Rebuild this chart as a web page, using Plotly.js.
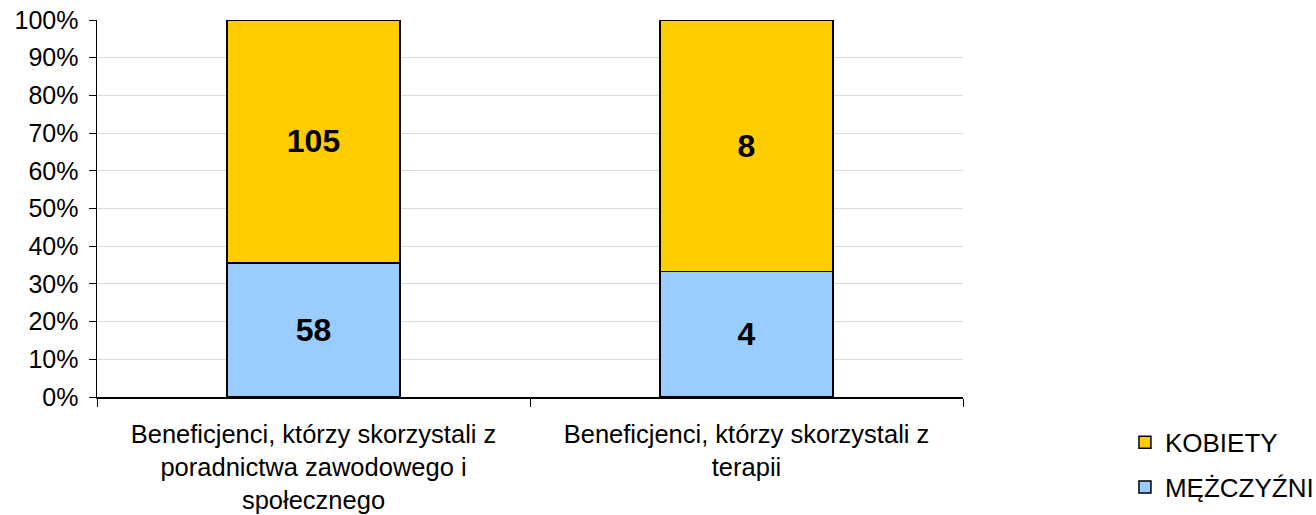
<!DOCTYPE html>
<html>
<head>
<meta charset="utf-8">
<script src="https://cdn.plot.ly/plotly-3.0.1.min.js"></script>
<style>html,body{margin:0;padding:0;background:#fff;}#chart{width:1316px;height:515px;}</style>
</head>
<body>
<div id="chart"></div>
<script>
const categories = [
  "Beneficjenci, którzy skorzystali z<br>poradnictwa zawodowego i<br>społecznego",
  "Beneficjenci, którzy skorzystali z<br>terapii"
];
const menValues = [58, 4];
const womenValues = [105, 8];
const seriesNames = ["MĘŻCZYŹNI", "KOBIETY"];

const font = "Liberation Sans, Arial, sans-serif";
const traces = [
  {
    type: "bar", name: seriesNames[0], x: categories, y: menValues,
    text: menValues.map(String), textposition: "inside", insidetextanchor: "middle",
    textfont: {family: font, size: 32, color: "#000", weight: "bold"},
    marker: {color: "#99CCFF", line: {color: "#000", width: 1.5}},
    width: 0.4, legendgroup: "m", legendrank: 2, hoverinfo: "skip"
  },
  {
    type: "bar", name: seriesNames[1], x: categories, y: womenValues,
    text: womenValues.map(String), textposition: "inside", insidetextanchor: "middle",
    textfont: {family: font, size: 32, color: "#000", weight: "bold"},
    marker: {color: "#FFCC00", line: {color: "#000", width: 1.5}},
    width: 0.4, legendgroup: "k", legendrank: 1, hoverinfo: "skip"
  }
];

const layout = {
  width: 1316, height: 515,
  margin: {l: 97, r: 353, t: 20, b: 118, autoexpand: false},
  paper_bgcolor: "#fff", plot_bgcolor: "#fff",
  barmode: "stack", barnorm: "percent",
  font: {family: font, color: "#000"},
  showlegend: true,
  legend: {
    x: 1.187, xanchor: "left", y: -0.058, yanchor: "top",
    traceorder: "grouped", tracegroupgap: 8,
    font: {family: font, size: 26, color: "#000"},
    itemwidth: 30
  },
  xaxis: {
    type: "category", tickson: "boundaries", automargin: false,
    ticks: "outside", ticklen: 8, tickcolor: "#000",
    showline: true, linecolor: "#000", linewidth: 1.5,
    showgrid: false, ticklabelstandoff: 14,
    tickfont: {family: font, size: 25.5, color: "#000"}
  },
  yaxis: {
    range: [0, 100], dtick: 10, ticksuffix: "%", automargin: false,
    ticks: "outside", ticklen: 7, tickcolor: "#000",
    showline: true, linecolor: "#000", linewidth: 1.5,
    showgrid: true, gridcolor: "#d9d9d9", gridwidth: 1,
    zeroline: false, ticklabelstandoff: 5,
    tickfont: {family: font, size: 25, color: "#000"}
  }
};

Plotly.newPlot("chart", traces, layout, {displayModeBar: false, staticPlot: true});
</script>
</body>
</html>
